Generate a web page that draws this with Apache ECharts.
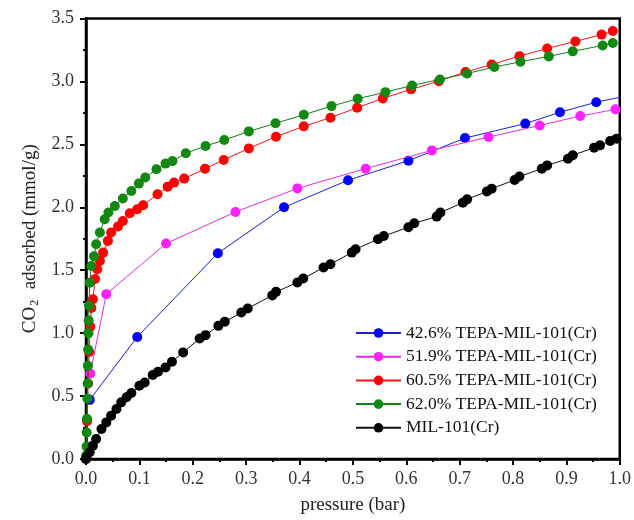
<!DOCTYPE html>
<html>
<head>
<meta charset="utf-8">
<script src="https://cdn.jsdelivr.net/npm/echarts@6/dist/echarts.min.js"></script>
<style>html,body{margin:0;padding:0;background:#fff}#c{width:634px;height:520px}</style>
</head>
<body>
<div id="c"></div>
<script>
// ---- data (pressure in bar, CO2 adsorbed in mmol/g) ----
const seriesNames = ['42.6% TEPA-MIL-101(Cr)', '51.9% TEPA-MIL-101(Cr)', '60.5% TEPA-MIL-101(Cr)', '62.0% TEPA-MIL-101(Cr)', 'MIL-101(Cr)'];
const xTicks = [0.0, 0.1, 0.2, 0.3, 0.4, 0.5, 0.6, 0.7, 0.8, 0.9, 1.0];
const yTicks = [0.0, 0.5, 1.0, 1.5, 2.0, 2.5, 3.0, 3.5];

const tepa426 = [[0.007,0.47],[0.096,0.97],[0.247,1.635],[0.371,2.0],[0.491,2.215],[0.604,2.37],[0.71,2.55],[0.823,2.665],[0.888,2.755],[0.956,2.835],[1.03,2.9]];
const tepa519 = [[0.008,0.68],[0.038,1.31],[0.150,1.712],[0.280,1.963],[0.396,2.15],[0.524,2.307],[0.648,2.452],[0.754,2.558],[0.850,2.65],[0.926,2.725],[0.992,2.778]];
const tepa605 = [[0,0],[0.002,0.3],[0.004,0.6],[0.006,0.85],[0.008,1.05],[0.01,1.2],[0.013,1.27],[0.017,1.43],[0.021,1.508],[0.026,1.574],[0.032,1.64],[0.041,1.733],[0.047,1.80],[0.06,1.847],[0.069,1.891],[0.082,1.952],[0.096,1.984],[0.107,2.016],[0.134,2.103],[0.153,2.164],[0.165,2.196],[0.184,2.228],[0.223,2.307],[0.258,2.376],[0.305,2.468],[0.356,2.561],[0.408,2.643],[0.458,2.712],[0.508,2.791],[0.556,2.865],[0.609,2.937],[0.661,3.002],[0.711,3.074],[0.760,3.135],[0.812,3.201],[0.864,3.262],[0.917,3.318],[0.966,3.372],[0.987,3.4]];
const tepa620 = [[0,0],[0.0006,0.03],[0.001,0.1],[0.0013,0.21],[0.0018,0.32],[0.0025,0.48],[0.003,0.6],[0.0035,0.74],[0.004,0.87],[0.0045,1.0],[0.005,1.1],[0.0055,1.22],[0.007,1.40],[0.01,1.534],[0.015,1.61],[0.019,1.706],[0.026,1.80],[0.035,1.905],[0.042,1.958],[0.054,2.01],[0.069,2.07],[0.085,2.13],[0.099,2.188],[0.111,2.236],[0.132,2.302],[0.149,2.347],[0.162,2.367],[0.187,2.429],[0.224,2.487],[0.259,2.534],[0.305,2.603],[0.355,2.667],[0.408,2.735],[0.46,2.804],[0.509,2.862],[0.561,2.915],[0.611,2.968],[0.663,3.016],[0.714,3.063],[0.765,3.114],[0.814,3.156],[0.867,3.199],[0.912,3.239],[0.968,3.286],[0.987,3.305]];
const mil101 = [[0,0],[0.0006,0.013],[0.007,0.053],[0.013,0.106],[0.019,0.159],[0.029,0.238],[0.038,0.291],[0.047,0.344],[0.057,0.397],[0.066,0.45],[0.076,0.49],[0.085,0.524],[0.10,0.582],[0.11,0.608],[0.125,0.667],[0.135,0.693],[0.149,0.728],[0.161,0.772],[0.182,0.847],[0.213,0.958],[0.224,0.984],[0.248,1.058],[0.260,1.09],[0.291,1.164],[0.303,1.196],[0.349,1.30],[0.356,1.328],[0.396,1.402],[0.407,1.434],[0.445,1.521],[0.458,1.548],[0.498,1.64],[0.505,1.667],[0.547,1.746],[0.558,1.772],[0.604,1.841],[0.615,1.873],[0.657,1.926],[0.664,1.958],[0.706,2.037],[0.714,2.063],[0.751,2.125],[0.760,2.148],[0.803,2.217],[0.812,2.244],[0.854,2.307],[0.864,2.333],[0.903,2.386],[0.912,2.413],[0.952,2.474],[0.963,2.492],[0.982,2.526],[0.994,2.545]];

const markerColors = ['#0000ff', '#ff22ff', '#ff0000', '#118811', '#000000'];
const lineColors = ['#1f1fd0', '#e030e0', '#e81818', '#187a18', '#111111'];
const allData = [tepa426, tepa519, tepa605, tepa620, mil101];

const FONT = '"Liberation Serif", "Times New Roman", serif';
const chart = echarts.init(document.getElementById('c'), null, {renderer: 'canvas'});

const fmt = v => Number(v).toFixed(1);

chart.setOption({
  animation: false,
  backgroundColor: '#ffffff',
  grid: {left: 86, right: 14, top: 18.5, bottom: 58.5, show: true, borderColor: '#000', borderWidth: 2.5, backgroundColor: 'transparent', containLabel: false},
  legend: {
    data: seriesNames,
    orient: 'vertical',
    left: 350, top: 319,
    itemWidth: 45, itemHeight: 12, itemGap: 5.7,
    textStyle: {fontFamily: FONT, fontSize: 17.5, color: '#111', lineHeight: 18},
    icon: undefined
  },
  xAxis: {
    type: 'value', min: xTicks[0], max: xTicks[xTicks.length - 1], interval: 0.1,
    name: 'pressure (bar)', nameLocation: 'middle', nameGap: 37,
    nameTextStyle: {fontFamily: FONT, fontSize: 19, color: '#222'},
    axisLine: {show: true, onZero: false, lineStyle: {color: '#000', width: 2.5}},
    axisTick: {show: true, inside: false, length: 6, lineStyle: {color: '#000', width: 2}},
    minorTick: {show: true, splitNumber: 2, length: 3, lineStyle: {color: '#000', width: 2}},
    axisLabel: {fontFamily: FONT, fontSize: 18, color: '#333', margin: 11, formatter: fmt},
    splitLine: {show: false}
  },
  yAxis: {
    type: 'value', min: yTicks[0], max: yTicks[yTicks.length - 1], interval: 0.5,
    name: '{a|CO}{b|2}{a|  adsorbed (mmol/g)}', nameLocation: 'middle', nameGap: 44, nameRotate: 90,
    nameTextStyle: {rich: {
      a: {fontFamily: FONT, fontSize: 19, color: '#222', lineHeight: 22},
      b: {fontFamily: FONT, fontSize: 12, color: '#222', verticalAlign: 'bottom', lineHeight: 12, padding: [0, 1, 0, 1]}
    }},
    axisLine: {show: true, onZero: false, lineStyle: {color: '#000', width: 2.5}},
    axisTick: {show: true, inside: false, length: 6, lineStyle: {color: '#000', width: 2}},
    minorTick: {show: true, splitNumber: 2, length: 3, lineStyle: {color: '#000', width: 2}},
    axisLabel: {fontFamily: FONT, fontSize: 18, color: '#333', margin: 12, formatter: fmt},
    splitLine: {show: false}
  },
  series: allData.map((d, i) => ({
    name: seriesNames[i],
    type: 'line',
    data: d,
    symbol: 'circle',
    symbolSize: 10,
    showAllSymbol: true,
    clip: true,
    itemStyle: {color: markerColors[i], borderWidth: 0},
    lineStyle: {color: lineColors[i], width: 1},
    z: 2 + i
  }))
});
</script>
</body>
</html>
